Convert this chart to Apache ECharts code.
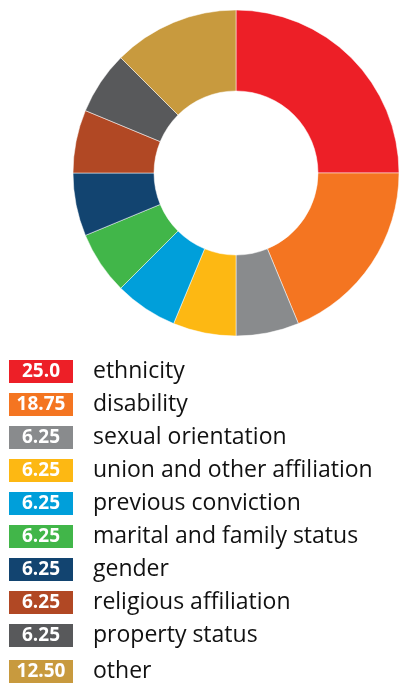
<!DOCTYPE html>
<html>
<head>
<meta charset="utf-8">
<script src="https://cdn.jsdelivr.net/npm/echarts@6/dist/echarts.min.js"></script>
<style>
  html, body { margin: 0; padding: 0; background: #fff; }
  #chart { width: 399px; height: 683px; }
</style>
</head>
<body>
<div id="chart"></div>
<script>
// Grounds of discrimination, share in percent
const categories = [
  'ethnicity', 'disability', 'sexual orientation', 'union and other affiliation',
  'previous conviction', 'marital and family status', 'gender',
  'religious affiliation', 'property status', 'other'
];
const values = [25.0, 18.75, 6.25, 6.25, 6.25, 6.25, 6.25, 6.25, 6.25, 12.50];
const valueLabels = ['25.0', '18.75', '6.25', '6.25', '6.25', '6.25', '6.25', '6.25', '6.25', '12.50'];
const colors = [
  '#ED1F27', '#F47521', '#898B8D', '#FDB813', '#009FDA',
  '#41B649', '#124470', '#B14824', '#58595B', '#C89A3E'
];

const FONT = '"Open Sans", "Noto Sans", sans-serif';

// one rich style per legend entry so each value box takes its slice colour
const rich = {
  name: { fontSize: 23, lineHeight: 23, color: '#111', fontFamily: FONT, padding: [0, 0, 0, 20] }
};
categories.forEach((c, i) => {
  rich['b' + i] = {
    width: 64, height: 23, lineHeight: 23, align: 'center', verticalAlign: 'middle',
    backgroundColor: colors[i], color: '#fff',
    fontSize: 19, fontWeight: 'bold', fontFamily: FONT
  };
});

function legendBlock(names, top) {
  return {
    orient: 'vertical',
    left: 3,
    top: top,
    height: 400,
    padding: 0,
    itemWidth: 0,
    itemHeight: 0,
    itemGap: 10,
    icon: 'rect',
    selectedMode: false,
    data: names,
    formatter: function (name) {
      const i = categories.indexOf(name);
      return '{b' + i + '|' + valueLabels[i] + '}{name|' + name + '}';
    },
    textStyle: { rich: rich }
  };
}

const chart = echarts.init(document.getElementById('chart'), null, { renderer: 'canvas' });
chart.setOption({
  animation: false,
  color: colors,
  // the catch-all "other" row sits a little apart from the named grounds
  legend: [
    legendBlock(categories.slice(0, 9), 360),
    legendBlock(categories.slice(9), 660)
  ],
  series: [{
    type: 'pie',
    center: [236, 173],
    radius: [82, 163],
    startAngle: 90,
    clockwise: true,
    label: { show: false },
    labelLine: { show: false },
    emphasis: { disabled: true },
    itemStyle: { borderColor: '#fff', borderWidth: 0.5 },
    data: categories.map((c, i) => ({ name: c, value: values[i] }))
  }]
});
</script>
</body>
</html>
